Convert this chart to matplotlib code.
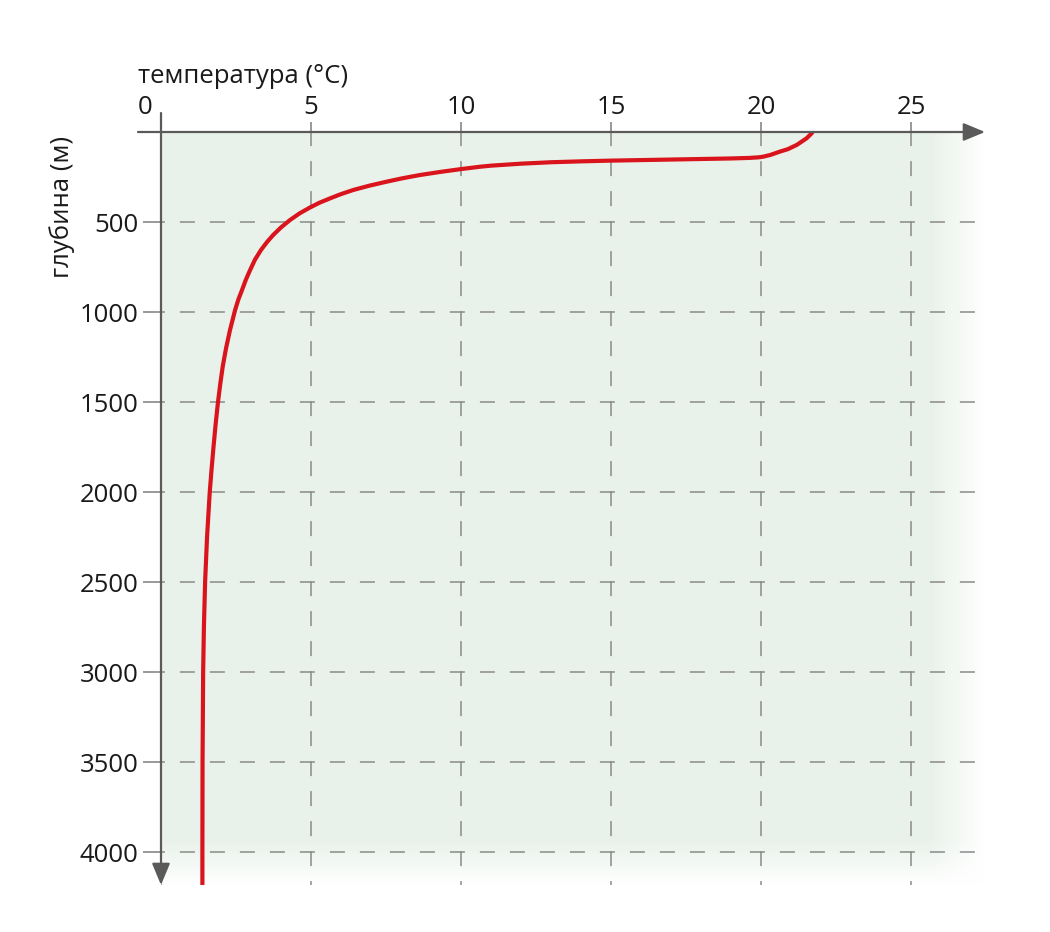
import numpy as np
import matplotlib
matplotlib.use("Agg")
import matplotlib.pyplot as plt

plt.rcParams['font.family'] = ['Open Sans', 'DejaVu Sans']
plt.rcParams['lines.scale_dashes'] = False

# temperature profile
depth = [0, 7, 35, 72, 95, 109, 128, 136, 139, 141, 144, 147, 150, 153, 156,
         159, 163, 168, 176, 187, 193, 206, 222, 239, 257, 276, 298, 322, 345,
         369, 393, 419, 452, 489, 530, 572, 610, 656, 710, 767, 820, 878, 930,
         989, 1100, 1200, 1300, 1400, 1500, 1625, 1750, 1875, 2000, 2250,
         2500, 2750, 3000, 3500, 4000, 4183]
temp = [21.72, 21.69, 21.52, 21.19, 20.9, 20.63, 20.3, 20.1, 20.0, 19.9, 19.6,
        19.0, 18.0, 17.0, 16.0, 15.0, 14.0, 13.0, 12.0, 11.0, 10.63, 10.0,
        9.3, 8.63, 8.05, 7.52, 6.95, 6.41, 6.0, 5.63, 5.28, 4.97, 4.62, 4.3,
        4.0, 3.74, 3.54, 3.33, 3.13, 2.97, 2.83, 2.70, 2.58, 2.47, 2.30, 2.17,
        2.06, 1.975, 1.90, 1.82, 1.75, 1.685, 1.625, 1.535, 1.47, 1.43, 1.405,
        1.385, 1.38, 1.38]

xticks = [0, 5, 10, 15, 20, 25]
xlabels = ['', '5', '10', '15', '20', '25']
yticks = [0, 500, 1000, 1500, 2000, 2500, 3000, 3500, 4000]
ylabels = [''] + [str(v) for v in yticks[1:]]

W, H = 1050, 932
fig = plt.figure(figsize=(W / 100, H / 100), dpi=100)
ax = fig.add_axes([161 / W, 47 / H, 825 / W, 753 / H])
ax.set_xlim(0, 27.5)
ax.set_ylim(4183, 0)

# green background fading to white at right and bottom
px = np.arange(161, 986)
py = np.arange(132, 885)
ax_ = np.clip((985 - px) / 55.0, 0, 1)
ay_ = np.clip((885 - py) / 45.0, 0, 1)
alpha = ay_[:, None] * ax_[None, :]
img = np.zeros((len(py), len(px), 4))
img[..., 0] = 233 / 255
img[..., 1] = 243 / 255
img[..., 2] = 235 / 255
img[..., 3] = alpha
ax.imshow(img, extent=(0, 27.5, 4183, 0), aspect='auto', zorder=0,
          interpolation='bilinear')

for s in ax.spines.values():
    s.set_visible(False)

fs = 18.5
ax.xaxis.tick_top()
ax.set_xticks(xticks, xlabels)
ax.set_yticks(yticks, ylabels)
ax.tick_params(axis='x', length=7.5, width=1.1, color='#7d7d7d', pad=1,
               labelsize=fs, labelcolor='#1a1a1a')
ax.tick_params(axis='y', length=13, width=1.1, color='#7d7d7d', pad=3,
               labelsize=fs, labelcolor='#1a1a1a')
ax.grid(True, color='#8a8a8a', lw=1.1, linestyle=(8, (10.8, 10.8)))

ax.plot(temp, depth, color='#d9141c', lw=3, zorder=3, solid_capstyle='butt',
        solid_joinstyle='round')

# axes with arrows
arrow = dict(arrowstyle='-|>,head_length=0.6,head_width=0.25', color='#5a5a5a',
             lw=1.6, mutation_scale=22, shrinkA=0, shrinkB=0)
ax.annotate('', xy=(824 / 825, 1), xytext=(-23 / 825, 1),
            xycoords='axes fraction', arrowprops=arrow, annotation_clip=False)
ax.annotate('', xy=(0, 0), xytext=(0, 1 + 19 / 753),
            xycoords='axes fraction', arrowprops=arrow, annotation_clip=False)

fig.text(145 / W, 1 - 120 / H, '0', ha='center', va='bottom', fontsize=fs,
         color='#1a1a1a')
fig.text(138 / W, 1 - 83 / H, 'температура (°C)', ha='left', va='baseline',
         fontsize=fs, color='#1a1a1a')
fig.text(62 / W, 1 - 207 / H, 'глубина (м)', rotation=90, ha='center',
         va='center', fontsize=fs, color='#1a1a1a')

fig.savefig('out.png', dpi=100)
